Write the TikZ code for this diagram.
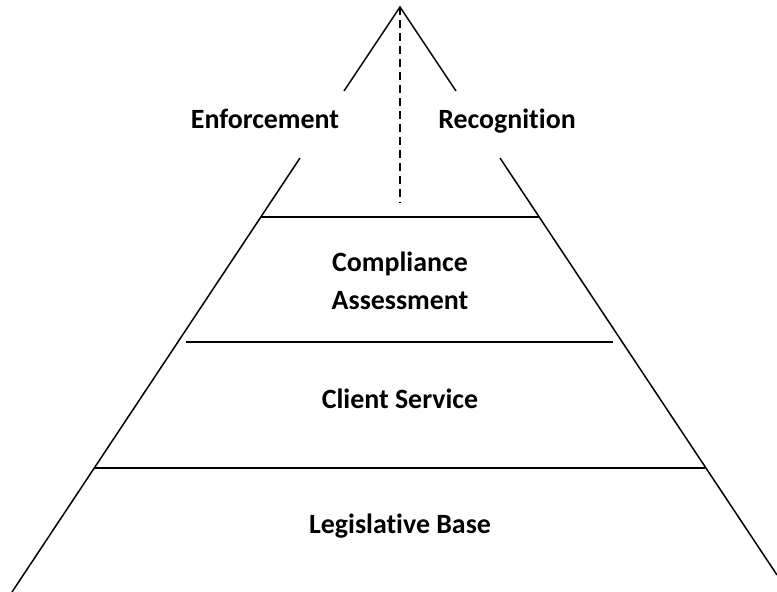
\documentclass[tikz,border=0pt]{standalone}
\usepackage{fontspec}
\setmainfont[Ligatures=NoCommon]{Carlito}
\begin{document}
\begin{tikzpicture}[x=1bp,y=-1bp]
    % Definizione stili
    \tikzset{side/.style={line width=1.5bp, black}}
    \tikzstyle{level}=[line width=1.5bp, black]
    \tikzstyle{axis}=[line width=1.2bp, dash pattern=on 8bp off 5bp]
    \tikzstyle{label}=[font=\bfseries\fontsize{28}{38}\selectfont, align=center, inner sep=0pt]

    \useasboundingbox (0,0) rectangle (777,592);

    % Vertice e lati della piramide
    \coordinate (apex) at (400,7);
    \coordinate (left_top) at (344,91);
    \coordinate (right_top) at (456,91);
    \coordinate (left_mid) at (300,158);
    \coordinate (right_mid) at (500,158);
    \coordinate (left_base) at (12,592);
    \coordinate (right_base) at (777,575);
    \draw[side] (left_top) -- (apex) -- (right_top);
    \draw[side] (left_mid) -- (left_base);
    \draw[side] (right_mid) -- (right_base);

    % Asse tratteggiato
    \coordinate (axis_end) at (400,203);
    \draw[axis] (apex) -- (axis_end);

    % Livelli
    \coordinate (l1_a) at (261,217);
    \coordinate (l1_b) at (539,217);
    \coordinate (l2_a) at (186,342);
    \coordinate (l2_b) at (613,342);
    \coordinate (l3_a) at (95,468);
    \coordinate (l3_b) at (705,468);
    \draw[level] (l1_a) -- (l1_b);
    \draw[level] (l2_a) -- (l2_b);
    \draw[level] (l3_a) -- (l3_b);

    % Etichette
    \node[label, anchor=base] (enforcement) at (265,129) {Enforcement};
    \node[label, anchor=base] (recognition) at (507,129) {Recognition};
    \node[label] (compliance) at (400,281) {Compliance\\Assessment};
    \node[label, anchor=base] (client) at (400,408) {Client Service};
    \node[label, anchor=base] (legislative) at (400,533) {Legislative Base};
\end{tikzpicture}
\end{document}
